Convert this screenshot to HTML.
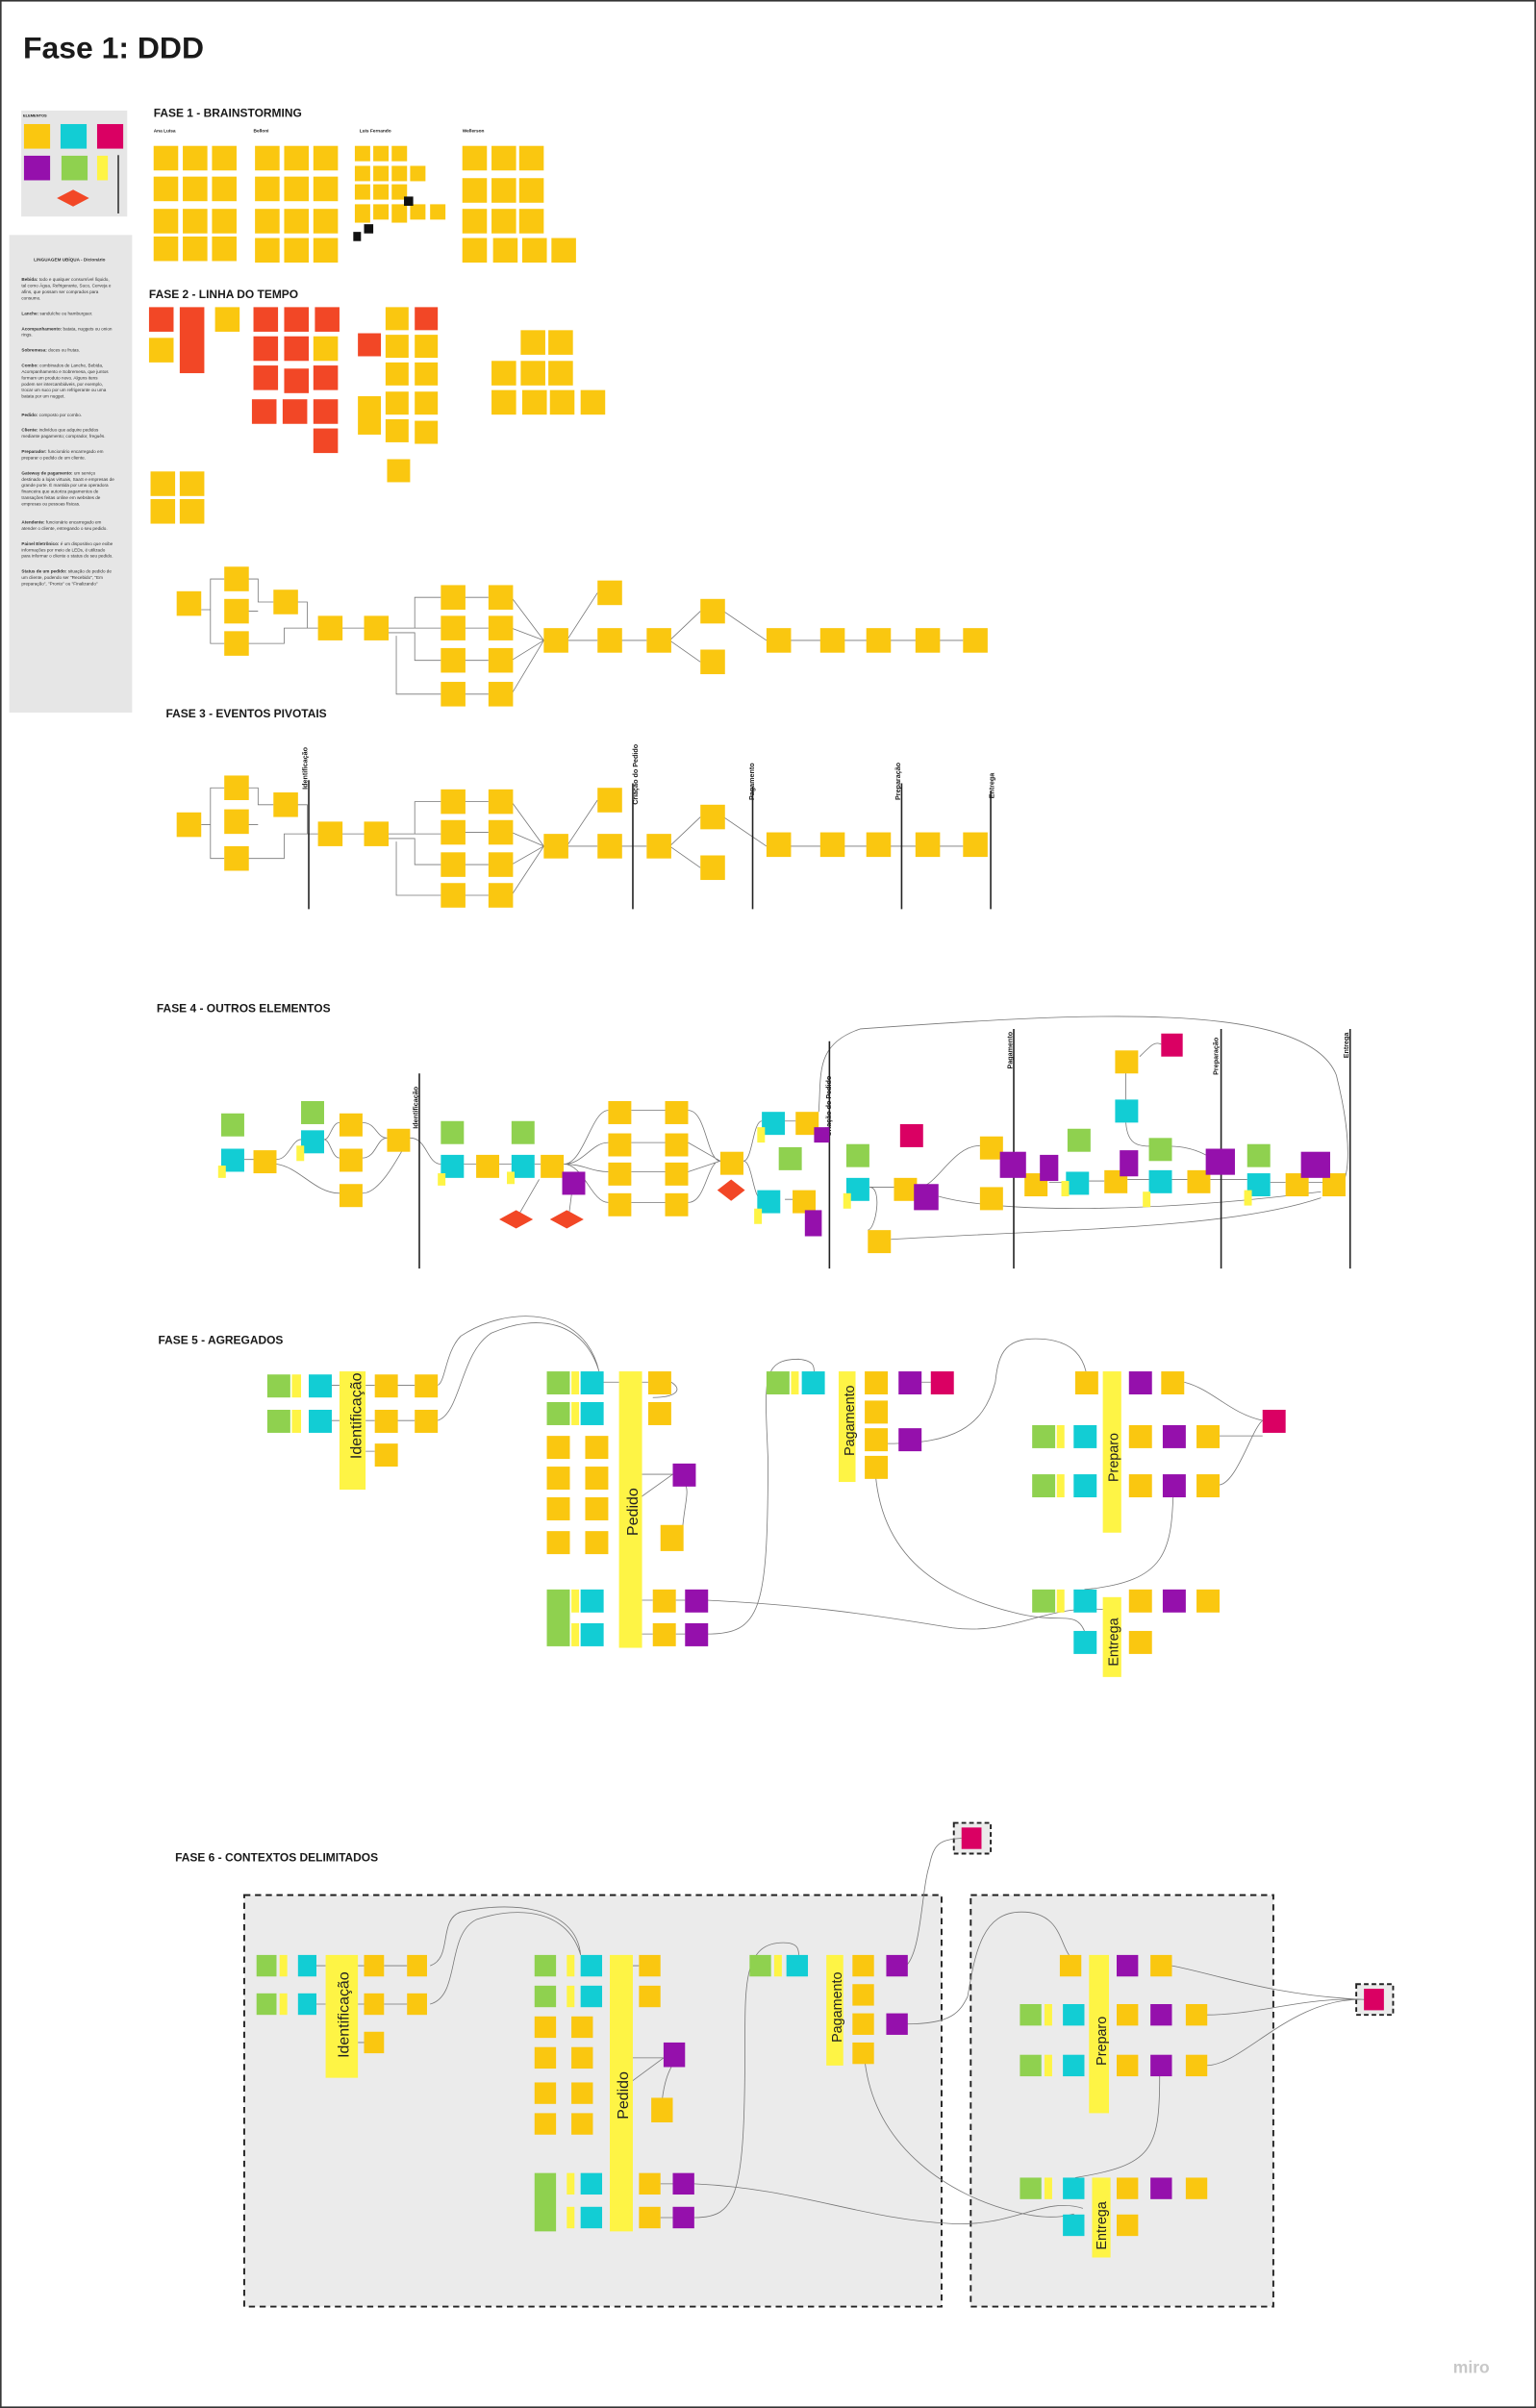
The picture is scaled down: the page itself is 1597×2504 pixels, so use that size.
<!DOCTYPE html>
<html><head><meta charset="utf-8"><style>
html,body{margin:0;padding:0;background:#fff}
svg{display:block}
.y{fill:#fac710}.c{fill:#12cdd4}.m{fill:#da0063}.p{fill:#9510ac}.g{fill:#8fd14f}.l{fill:#fef445}.r{fill:#f24726}
.ln{stroke:#777;stroke-width:0.5;fill:none}
.vl{stroke:#222;stroke-width:1;fill:none}
.h{font-family:"Liberation Sans",sans-serif;font-weight:bold;fill:#1a1a1a}
</style></head><body>
<svg width="1597" height="2504" viewBox="0 0 1000 1568" xmlns="http://www.w3.org/2000/svg">
<rect x="0.5" y="0.5" width="999" height="1567" fill="#fff" stroke="#333" stroke-width="1"/>
<text x="15" y="38" class="h" font-size="20">Fase 1: DDD</text>

<!-- elements box -->
<rect x="13.8" y="72" width="69" height="69" fill="#e6e6e6"/>
<text x="15" y="76" class="h" font-size="2.5">ELEMENTOS</text>
<rect class="y" x="15.6" y="80.8" width="17" height="16"/><rect class="c" x="39.4" y="80.8" width="17" height="16"/><rect class="m" x="63.2" y="80.8" width="17" height="16"/>
<rect class="p" x="15.6" y="101.4" width="17" height="16"/><rect class="g" x="40" y="101.4" width="17" height="16"/><rect class="l" x="63.2" y="101.4" width="7" height="16"/>
<polygon class="r" points="37,129 47.6,123.5 58,129 47.6,134.5"/>
<line x1="77" y1="101" x2="77" y2="139" stroke="#333" stroke-width="1"/>

<!-- glossary -->
<rect x="6" y="153" width="80" height="311" fill="#e6e6e6"/>
<g font-family="Liberation Sans,sans-serif" font-size="2.9" fill="#333">
<text x="22" y="170" font-weight="bold">LINGUAGEM UBÍQUA - Dicionário</text>
<text x="14" y="183"><tspan font-weight="bold">Bebida:</tspan> todo e qualquer consumível líquido,</text>
<text x="14" y="187">tal como Água, Refrigerante, Suco, Cerveja e</text>
<text x="14" y="191">afins, que possam ser comprados para</text>
<text x="14" y="195">consumo.</text>
<text x="14" y="205"><tspan font-weight="bold">Lanche:</tspan> sanduíche ou hamburguer.</text>
<text x="14" y="215"><tspan font-weight="bold">Acompanhamento:</tspan> batata, nuggets ou onion</text>
<text x="14" y="219">rings.</text>
<text x="14" y="229"><tspan font-weight="bold">Sobremesa:</tspan> doces ou frutas.</text>
<text x="14" y="239"><tspan font-weight="bold">Combo:</tspan> combinados de Lanche, Bebida,</text>
<text x="14" y="243">Acompanhamento e Sobremesa, que juntos</text>
<text x="14" y="247">formam um produto novo. Alguns itens</text>
<text x="14" y="251">podem ser intercambiáveis, por exemplo,</text>
<text x="14" y="255">trocar um suco por um refrigerante ou uma</text>
<text x="14" y="259">batata por um nugget.</text>
<text x="14" y="271"><tspan font-weight="bold">Pedido:</tspan> composto por combo.</text>
<text x="14" y="281"><tspan font-weight="bold">Cliente:</tspan> indivíduo que adquire pedidos</text>
<text x="14" y="285">mediante pagamento; comprador, freguês.</text>
<text x="14" y="295"><tspan font-weight="bold">Preparador:</tspan> funcionário encarregado em</text>
<text x="14" y="299">preparar o pedido de um cliente.</text>
<text x="14" y="309"><tspan font-weight="bold">Gateway de pagamento:</tspan> um serviço</text>
<text x="14" y="313">destinado a lojas virtuais, SaaS e empresas de</text>
<text x="14" y="317">grande porte. É mantida por uma operadora</text>
<text x="14" y="321">financeira que autoriza pagamentos de</text>
<text x="14" y="325">transações feitas online em websites de</text>
<text x="14" y="329">empresas ou pessoas físicas.</text>
<text x="14" y="341"><tspan font-weight="bold">Atendente:</tspan> funcionário encarregado em</text>
<text x="14" y="345">atender o cliente, entregando o seu pedido.</text>
<text x="14" y="355"><tspan font-weight="bold">Painel Eletrônico:</tspan> é um dispositivo que exibe</text>
<text x="14" y="359">informações por meio de LEDs, é utilizado</text>
<text x="14" y="363">para informar o cliente o status do seu pedido.</text>
<text x="14" y="373"><tspan font-weight="bold">Status de um pedido:</tspan> situação do pedido de</text>
<text x="14" y="377">um cliente, podendo ser "Recebido", "Em</text>
<text x="14" y="381">preparação", "Pronto" ou "Finalizando"</text>
</g>

<!-- FASE 1 -->
<text x="100" y="76" class="h" font-size="7.5">FASE 1 - BRAINSTORMING</text>
<g class="h" font-size="3"><text x="100" y="86">Ana Luisa</text><text x="165" y="86">Belloni</text><text x="234" y="86">Luis Fernando</text><text x="301" y="86">Wellerson</text></g>
<g class="y">
<rect x="100" y="95" width="16" height="16"/><rect x="119" y="95" width="16" height="16"/><rect x="138" y="95" width="16" height="16"/>
<rect x="100" y="115" width="16" height="16"/><rect x="119" y="115" width="16" height="16"/><rect x="138" y="115" width="16" height="16"/>
<rect x="100" y="136" width="16" height="16"/><rect x="119" y="136" width="16" height="16"/><rect x="138" y="136" width="16" height="16"/>
<rect x="100" y="154" width="16" height="16"/><rect x="119" y="154" width="16" height="16"/><rect x="138" y="154" width="16" height="16"/>
<rect x="166" y="95" width="16" height="16"/><rect x="185" y="95" width="16" height="16"/><rect x="204" y="95" width="16" height="16"/>
<rect x="166" y="115" width="16" height="16"/><rect x="185" y="115" width="16" height="16"/><rect x="204" y="115" width="16" height="16"/>
<rect x="166" y="136" width="16" height="16"/><rect x="185" y="136" width="16" height="16"/><rect x="204" y="136" width="16" height="16"/>
<rect x="166" y="155" width="16" height="16"/><rect x="185" y="155" width="16" height="16"/><rect x="204" y="155" width="16" height="16"/>
<rect x="231" y="95" width="10" height="10"/><rect x="243" y="95" width="10" height="10"/><rect x="255" y="95" width="10" height="10"/>
<rect x="231" y="108" width="10" height="10"/><rect x="243" y="108" width="10" height="10"/><rect x="255" y="108" width="10" height="10"/><rect x="267" y="108" width="10" height="10"/>
<rect x="231" y="120" width="10" height="10"/><rect x="243" y="120" width="10" height="10"/><rect x="255" y="120" width="10" height="10"/>
<rect x="231" y="133" width="10" height="12"/><rect x="243" y="133" width="10" height="10"/><rect x="255" y="133" width="10" height="12"/><rect x="267" y="133" width="10" height="10"/><rect x="280" y="133" width="10" height="10"/>
<rect x="301" y="95" width="16" height="16"/><rect x="320" y="95" width="16" height="16"/><rect x="338" y="95" width="16" height="16"/>
<rect x="301" y="116" width="16" height="16"/><rect x="320" y="116" width="16" height="16"/><rect x="338" y="116" width="16" height="16"/>
<rect x="301" y="136" width="16" height="16"/><rect x="320" y="136" width="16" height="16"/><rect x="338" y="136" width="16" height="16"/>
<rect x="301" y="155" width="16" height="16"/><rect x="321" y="155" width="16" height="16"/><rect x="340" y="155" width="16" height="16"/><rect x="359" y="155" width="16" height="16"/>
</g>
<rect x="263" y="128" width="6" height="6" fill="#111"/><rect x="237" y="146" width="6" height="6" fill="#111"/><rect x="230" y="151" width="5" height="6" fill="#111"/>

<!-- FASE 2 -->
<text x="97" y="194" class="h" font-size="7.5">FASE 2 - LINHA DO TEMPO</text>
<g class="r">
<rect x="97" y="200" width="16" height="16"/><rect x="117" y="200" width="16" height="43"/>
<rect x="165" y="200" width="16" height="16"/><rect x="185" y="200" width="16" height="16"/><rect x="205" y="200" width="16" height="16"/>
<rect x="165" y="219" width="16" height="16"/><rect x="185" y="219" width="16" height="16"/>
<rect x="165" y="238" width="16" height="16"/><rect x="185" y="240" width="16" height="16"/><rect x="204" y="238" width="16" height="16"/>
<rect x="164" y="260" width="16" height="16"/><rect x="184" y="260" width="16" height="16"/><rect x="204" y="260" width="16" height="16"/>
<rect x="204" y="279" width="16" height="16"/><rect x="233" y="217" width="15" height="15"/><rect x="270" y="200" width="15" height="15"/>
</g>
<g class="y">
<rect x="97" y="220" width="16" height="16"/><rect x="140" y="200" width="16" height="16"/><rect x="204" y="219" width="16" height="16"/>
<rect x="251" y="200" width="15" height="15"/><rect x="251" y="218" width="15" height="15"/><rect x="251" y="236" width="15" height="15"/><rect x="251" y="255" width="15" height="15"/><rect x="251" y="273" width="15" height="15"/><rect x="252" y="299" width="15" height="15"/>
<rect x="270" y="218" width="15" height="15"/><rect x="270" y="236" width="15" height="15"/><rect x="270" y="255" width="15" height="15"/><rect x="270" y="274" width="15" height="15"/>
<rect x="233" y="258" width="15" height="25"/>
<rect x="339" y="215" width="16" height="16"/><rect x="357" y="215" width="16" height="16"/>
<rect x="320" y="235" width="16" height="16"/><rect x="339" y="235" width="16" height="16"/><rect x="357" y="235" width="16" height="16"/>
<rect x="320" y="254" width="16" height="16"/><rect x="340" y="254" width="16" height="16"/><rect x="358" y="254" width="16" height="16"/><rect x="378" y="254" width="16" height="16"/>
<rect x="98" y="307" width="16" height="16"/><rect x="117" y="307" width="16" height="16"/><rect x="98" y="325" width="16" height="16"/><rect x="117" y="325" width="16" height="16"/>
</g>
<!-- fase 2 flow -->
<g class="ln">
<path d="M131,397 H137 V377 H146 M137,397 V419 H146 M161,377 H168 V392 H178 M161,398 H168 M161,419 H185 V409 H207 M193,392 H200 V409 H207 M222,409 H237 M252,409 H270 V389 H287 M252,409 H287 M252,412 H270 V430 H287 M258,414 V452 H287 M302,389 H318 M302,409 H318 M302,430 H318 M302,452 H318 M333,389 L354,417 M333,409 L354,417 M333,430 L354,417 M333,452 L354,417 M369,417 H389 M369,417 L389,386 M404,417 H421 M436,417 L456,398 M436,417 L456,431 M471,398 L499,417 M514,417 H627"/>
</g>
<g class="y">
<rect x="115" y="385" width="16" height="16"/><rect x="146" y="369" width="16" height="16"/><rect x="146" y="390" width="16" height="16"/><rect x="146" y="411" width="16" height="16"/>
<rect x="178" y="384" width="16" height="16"/><rect x="207" y="401" width="16" height="16"/><rect x="237" y="401" width="16" height="16"/>
<rect x="287" y="381" width="16" height="16"/><rect x="287" y="401" width="16" height="16"/><rect x="287" y="422" width="16" height="16"/><rect x="287" y="444" width="16" height="16"/>
<rect x="318" y="381" width="16" height="16"/><rect x="318" y="401" width="16" height="16"/><rect x="318" y="422" width="16" height="16"/><rect x="318" y="444" width="16" height="16"/>
<rect x="354" y="409" width="16" height="16"/><rect x="389" y="378" width="16" height="16"/><rect x="389" y="409" width="16" height="16"/><rect x="421" y="409" width="16" height="16"/>
<rect x="456" y="390" width="16" height="16"/><rect x="456" y="423" width="16" height="16"/>
<rect x="499" y="409" width="16" height="16"/><rect x="534" y="409" width="16" height="16"/><rect x="564" y="409" width="16" height="16"/><rect x="596" y="409" width="16" height="16"/><rect x="627" y="409" width="16" height="16"/>
</g>

<!-- FASE 3 -->
<text x="108" y="467" class="h" font-size="7.5">FASE 3 - EVENTOS PIVOTAIS</text>
<g class="ln">
<path d="M131,537 H137 V513 H146 M137,537 V559 H146 M161,513 H168 V524 H178 M161,537 H168 M161,559 H185 V543 H207 M193,524 H200 V543 H207 M222,543 H237 M252,543 H270 V522 H287 M252,543 H287 M252,546 H270 V563 H287 M258,548 V583 H287 M302,522 H318 M302,542 H318 M302,563 H318 M302,583 H318 M333,522 L354,551 M333,542 L354,551 M333,563 L354,551 M333,583 L354,551 M369,551 H389 M369,551 L389,521 M404,551 H421 M436,551 L456,532 M436,551 L456,565 M471,532 L499,551 M514,551 H627"/>
</g>
<g class="y">
<rect x="115" y="529" width="16" height="16"/><rect x="146" y="505" width="16" height="16"/><rect x="146" y="527" width="16" height="16"/><rect x="146" y="551" width="16" height="16"/>
<rect x="178" y="516" width="16" height="16"/><rect x="207" y="535" width="16" height="16"/><rect x="237" y="535" width="16" height="16"/>
<rect x="287" y="514" width="16" height="16"/><rect x="287" y="534" width="16" height="16"/><rect x="287" y="555" width="16" height="16"/><rect x="287" y="575" width="16" height="16"/>
<rect x="318" y="514" width="16" height="16"/><rect x="318" y="534" width="16" height="16"/><rect x="318" y="555" width="16" height="16"/><rect x="318" y="575" width="16" height="16"/>
<rect x="354" y="543" width="16" height="16"/><rect x="389" y="513" width="16" height="16"/><rect x="389" y="543" width="16" height="16"/><rect x="421" y="543" width="16" height="16"/>
<rect x="456" y="524" width="16" height="16"/><rect x="456" y="557" width="16" height="16"/>
<rect x="499" y="542" width="16" height="16"/><rect x="534" y="542" width="16" height="16"/><rect x="564" y="542" width="16" height="16"/><rect x="596" y="542" width="16" height="16"/><rect x="627" y="542" width="16" height="16"/>
</g>
<g class="vl"><path d="M201,508 V592 M412,510 V592 M490,512 V592 M587,510 V592 M645,515 V592"/></g>
<g class="h" font-size="4.5">
<text transform="translate(200,514) rotate(-90)">Identificação</text>
<text transform="translate(415,524) rotate(-90)">Criação do Pedido</text>
<text transform="translate(491,521) rotate(-90)">Pagamento</text>
<text transform="translate(586,521) rotate(-90)">Preparação</text>
<text transform="translate(647,520) rotate(-90)">Entrega</text>
</g>

<!-- FASE 4 -->
<text x="102" y="659" class="h" font-size="7.5">FASE 4 - OUTROS ELEMENTOS</text>
<g class="ln">
<path d="M159,755 H165 M180,755 C188,755 190,742 196,742 M211,742 C215,742 216,731 221,731 M211,742 C215,742 216,754 221,754 M180,758 C195,760 205,777 221,777 M236,731 C245,731 245,741 252,741 M236,754 C245,754 245,741 252,741 M236,777 C250,777 265,741 267,741 M267,741 C278,741 278,758 287,758 M302,758 H310 M325,758 H333 M348,758 H352 M367,758 C380,758 385,723 396,723 M367,758 C380,758 385,744 396,744 M367,758 C380,758 385,763 396,763 M367,758 C380,758 385,783 396,783 M411,723 H433 M411,744 H433 M411,763 H433 M411,783 H433 M448,723 C460,723 460,756 469,756 M448,744 L469,756 M448,763 L469,756 M448,783 C460,783 460,756 469,756 M484,756 C490,756 490,730 496,730 M484,756 C490,756 490,781 496,781 M511,730 H518 M511,781 H516 M351,768 L336,794 M373,771 L370,794 M533,724 C535,700 530,680 560,670 C700,660 850,650 870,700 C880,740 880,770 870,775 M566,773 H582 M598,773 C610,773 620,746 638,746 M566,773 C575,773 570,801 565,801 M580,807 C700,800 800,800 860,780 M611,779 C650,790 750,790 860,776 M653,756 H667 M683,770 H694 M709,769 H719 M734,768 H748 M763,768 H773 M788,768 H812 M827,770 H837 M852,770 H861 M733,690 V716 M733,731 C735,760 760,735 790,755 M742,688 C750,680 752,678 756,680"/>
</g>
<g class="vl"><path d="M273,699 V826 M540,678 V826 M660,670 V826 M795,670 V826 M879,670 V826"/></g>
<g class="h" font-size="4.5">
<text transform="translate(272,735) rotate(-90)">Identificação</text>
<text transform="translate(541,740) rotate(-90)">Criação do Pedido</text>
<text transform="translate(659,696) rotate(-90)">Pagamento</text>
<text transform="translate(793,700) rotate(-90)">Preparação</text>
<text transform="translate(878,689) rotate(-90)">Entrega</text>
</g>
<g class="g">
<rect x="144" y="725" width="15" height="15"/><rect x="196" y="717" width="15" height="15"/><rect x="287" y="730" width="15" height="15"/><rect x="333" y="730" width="15" height="15"/><rect x="507" y="747" width="15" height="15"/><rect x="551" y="745" width="15" height="15"/><rect x="695" y="735" width="15" height="15"/><rect x="748" y="741" width="15" height="15"/><rect x="812" y="745" width="15" height="15"/>
</g>
<g class="c">
<rect x="144" y="748" width="15" height="15"/><rect x="196" y="736" width="15" height="15"/><rect x="287" y="752" width="15" height="15"/><rect x="333" y="752" width="15" height="15"/><rect x="496" y="724" width="15" height="15"/><rect x="493" y="775" width="15" height="15"/><rect x="551" y="767" width="15" height="15"/><rect x="694" y="763" width="15" height="15"/><rect x="726" y="716" width="15" height="15"/><rect x="748" y="762" width="15" height="15"/><rect x="812" y="764" width="15" height="15"/>
</g>
<g class="l">
<rect x="142" y="759" width="5" height="8"/><rect x="193" y="746" width="5" height="10"/><rect x="285" y="764" width="5" height="8"/><rect x="330" y="763" width="5" height="8"/><rect x="493" y="734" width="5" height="10"/><rect x="491" y="787" width="5" height="10"/><rect x="549" y="777" width="5" height="10"/><rect x="691" y="769" width="5" height="10"/><rect x="744" y="776" width="5" height="10"/><rect x="810" y="775" width="5" height="10"/>
</g>
<g class="y">
<rect x="165" y="749" width="15" height="15"/><rect x="221" y="725" width="15" height="15"/><rect x="221" y="748" width="15" height="15"/><rect x="221" y="771" width="15" height="15"/><rect x="252" y="735" width="15" height="15"/>
<rect x="310" y="752" width="15" height="15"/><rect x="352" y="752" width="15" height="15"/>
<rect x="396" y="717" width="15" height="15"/><rect x="396" y="738" width="15" height="15"/><rect x="396" y="757" width="15" height="15"/><rect x="396" y="777" width="15" height="15"/>
<rect x="433" y="717" width="15" height="15"/><rect x="433" y="738" width="15" height="15"/><rect x="433" y="757" width="15" height="15"/><rect x="433" y="777" width="15" height="15"/>
<rect x="469" y="750" width="15" height="15"/><rect x="518" y="724" width="15" height="15"/><rect x="516" y="775" width="15" height="15"/>
<rect x="565" y="801" width="15" height="15"/><rect x="582" y="767" width="15" height="15"/><rect x="638" y="740" width="15" height="15"/><rect x="638" y="773" width="15" height="15"/>
<rect x="667" y="764" width="15" height="15"/><rect x="719" y="762" width="15" height="15"/><rect x="726" y="684" width="15" height="15"/><rect x="773" y="762" width="15" height="15"/><rect x="837" y="764" width="15" height="15"/><rect x="861" y="764" width="15" height="15"/>
</g>
<g class="p">
<rect x="366" y="763" width="15" height="15"/><rect x="530" y="734" width="10" height="10"/><rect x="524" y="788" width="11" height="17"/><rect x="595" y="771" width="16" height="17"/><rect x="651" y="750" width="17" height="17"/><rect x="677" y="752" width="12" height="17"/><rect x="729" y="749" width="12" height="17"/><rect x="785" y="748" width="19" height="17"/><rect x="847" y="750" width="19" height="17"/>
</g>
<g class="m"><rect x="586" y="732" width="15" height="15"/><rect x="756" y="673" width="14" height="15"/></g>
<g class="r">
<polygon points="325,794 336,788 347,794 336,800"/><polygon points="358,794 369,788 380,794 369,800"/><polygon points="467,775 476,768 485,775 476,782"/>
</g>

<!-- FASE 5 -->
<text x="103" y="875" class="h" font-size="7.5">FASE 5 - AGREGADOS</text>
<g class="ln">
<path d="M258,902 H270 M258,925 H270 M285,902 C290,900 290,880 300,870 C330,850 380,850 390,893 M285,925 C300,920 300,880 320,868 C350,855 380,860 390,893 M215,902 H221 M215,925 H221 M238,902 H244 M238,925 H244 M238,945 H244 M392,900 H403 M418,900 H422 M437,900 C445,905 440,910 425,910 M418,960 L438,960 M410,980 L438,960 M444,1000 C445,980 450,970 445,965 M418,1042 H425 M418,1064 H425 M440,1042 H446 M440,1064 H446 M460,1042 C520,1045 560,1050 620,1060 C660,1065 680,1045 718,1048 M460,1064 C495,1064 500,1050 500,950 C498,900 495,885 520,885 C530,886 530,890 530,893 M578,940 C620,940 640,930 648,900 C650,880 655,870 680,872 C700,874 705,885 707,893 M570,960 C575,1020 620,1040 660,1050 C690,1058 700,1048 706,1062 M600,900 H606 M771,900 C790,905 800,920 822,925 M793,935 H822 M793,967 C805,967 815,930 822,925 M764,967 C763,1010 760,1030 706,1035"/>
</g>
<g class="l">
<rect x="221" y="893" width="17" height="77"/><rect x="403" y="893" width="15" height="180"/><rect x="546" y="893" width="11" height="72"/><rect x="718" y="893" width="12" height="105"/><rect x="718" y="1040" width="12" height="52"/>
<rect x="190" y="895" width="6" height="15"/><rect x="190" y="918" width="6" height="15"/><rect x="372" y="893" width="5" height="15"/><rect x="372" y="913" width="5" height="15"/><rect x="372" y="1035" width="5" height="15"/><rect x="372" y="1057" width="5" height="15"/><rect x="515" y="893" width="5" height="15"/><rect x="688" y="928" width="5" height="15"/><rect x="688" y="960" width="5" height="15"/><rect x="688" y="1035" width="5" height="15"/>
</g>
<g class="g">
<rect x="174" y="895" width="15" height="15"/><rect x="174" y="918" width="15" height="15"/><rect x="356" y="893" width="15" height="15"/><rect x="356" y="913" width="15" height="15"/><rect x="356" y="1035" width="15" height="37"/><rect x="499" y="893" width="15" height="15"/><rect x="672" y="928" width="15" height="15"/><rect x="672" y="960" width="15" height="15"/><rect x="672" y="1035" width="15" height="15"/>
</g>
<g class="c">
<rect x="201" y="895" width="15" height="15"/><rect x="201" y="918" width="15" height="15"/><rect x="378" y="893" width="15" height="15"/><rect x="378" y="913" width="15" height="15"/><rect x="378" y="1035" width="15" height="15"/><rect x="378" y="1057" width="15" height="15"/><rect x="522" y="893" width="15" height="15"/><rect x="699" y="928" width="15" height="15"/><rect x="699" y="960" width="15" height="15"/><rect x="699" y="1035" width="15" height="15"/><rect x="699" y="1062" width="15" height="15"/>
</g>
<g class="y">
<rect x="244" y="895" width="15" height="15"/><rect x="244" y="918" width="15" height="15"/><rect x="244" y="940" width="15" height="15"/><rect x="270" y="895" width="15" height="15"/><rect x="270" y="918" width="15" height="15"/>
<rect x="422" y="893" width="15" height="15"/><rect x="422" y="913" width="15" height="15"/>
<rect x="356" y="935" width="15" height="15"/><rect x="356" y="955" width="15" height="15"/><rect x="356" y="975" width="15" height="15"/><rect x="356" y="997" width="15" height="15"/>
<rect x="381" y="935" width="15" height="15"/><rect x="381" y="955" width="15" height="15"/><rect x="381" y="975" width="15" height="15"/><rect x="381" y="997" width="15" height="15"/>
<rect x="430" y="993" width="15" height="17"/><rect x="425" y="1035" width="15" height="15"/><rect x="425" y="1057" width="15" height="15"/>
<rect x="563" y="893" width="15" height="15"/><rect x="563" y="912" width="15" height="15"/><rect x="563" y="930" width="15" height="15"/><rect x="563" y="948" width="15" height="15"/>
<rect x="700" y="893" width="15" height="15"/><rect x="756" y="893" width="15" height="15"/><rect x="735" y="928" width="15" height="15"/><rect x="735" y="960" width="15" height="15"/><rect x="779" y="928" width="15" height="15"/><rect x="779" y="960" width="15" height="15"/>
<rect x="735" y="1035" width="15" height="15"/><rect x="779" y="1035" width="15" height="15"/><rect x="735" y="1062" width="15" height="15"/>
</g>
<g class="p">
<rect x="438" y="953" width="15" height="15"/><rect x="446" y="1035" width="15" height="15"/><rect x="446" y="1057" width="15" height="15"/><rect x="585" y="893" width="15" height="15"/><rect x="585" y="930" width="15" height="15"/><rect x="735" y="893" width="15" height="15"/><rect x="757" y="928" width="15" height="15"/><rect x="757" y="960" width="15" height="15"/><rect x="757" y="1035" width="15" height="15"/>
</g>
<g class="m"><rect x="606" y="893" width="15" height="15"/><rect x="822" y="918" width="15" height="15"/></g>
<g font-family="Liberation Sans,sans-serif" fill="#222">
<text transform="translate(235,950) rotate(-90)" font-size="10">Identificação</text>
<text transform="translate(415,1000) rotate(-90)" font-size="10">Pedido</text>
<text transform="translate(556,948) rotate(-90)" font-size="9">Pagamento</text>
<text transform="translate(728,965) rotate(-90)" font-size="9">Preparo</text>
<text transform="translate(728,1085) rotate(-90)" font-size="9">Entrega</text>
</g>

<!-- FASE 6 -->
<text x="114" y="1212" class="h" font-size="7.5">FASE 6 - CONTEXTOS DELIMITADOS</text>
<rect x="159" y="1234" width="454" height="268" fill="#ebebeb" stroke="#222" stroke-width="1.2" stroke-dasharray="4,3"/>
<rect x="632" y="1234" width="197" height="268" fill="#ebebeb" stroke="#222" stroke-width="1.2" stroke-dasharray="4,3"/>
<rect x="621" y="1187" width="24" height="20" fill="#ebebeb" stroke="#222" stroke-width="1.2" stroke-dasharray="3,2"/>
<rect x="883" y="1292" width="24" height="20" fill="#ebebeb" stroke="#222" stroke-width="1.2" stroke-dasharray="3,2"/>
<g class="ln">
<path d="M250,1280 H265 M250,1305 H265 M280,1280 C295,1275 285,1250 300,1245 C330,1238 375,1240 378,1273 M280,1305 C300,1300 290,1260 310,1250 C340,1240 370,1245 378,1273 M206,1280 H212 M206,1305 H212 M233,1280 H237 M233,1305 H237 M233,1330 H237 M412,1280 H416 M412,1340 H432 M405,1360 L432,1340 M431,1368 C433,1350 438,1345 440,1340 M430,1422 H438 M430,1444 H438 M452,1422 C520,1425 560,1445 620,1448 C660,1450 680,1430 705,1438 M452,1444 C480,1444 485,1430 485,1330 C485,1290 485,1265 510,1265 C520,1265 520,1270 520,1273 M590,1280 C600,1270 600,1230 605,1215 C608,1200 612,1198 626,1197 M590,1318 C620,1318 625,1310 630,1300 C635,1270 640,1245 665,1245 C690,1245 690,1265 696,1273 M563,1342 C570,1400 620,1430 660,1440 C690,1448 700,1440 699,1442 M763,1280 C790,1285 830,1300 889,1302 M785,1312 C820,1312 850,1300 889,1302 M785,1345 C810,1345 840,1300 889,1302 M755,1352 C755,1400 750,1410 700,1418"/>
</g>
<g class="l">
<rect x="212" y="1273" width="21" height="80"/><rect x="397" y="1273" width="15" height="180"/><rect x="538" y="1273" width="11" height="72"/><rect x="709" y="1273" width="13" height="103"/><rect x="711" y="1418" width="12" height="52"/>
<rect x="182" y="1273" width="5" height="14"/><rect x="182" y="1298" width="5" height="14"/><rect x="369" y="1273" width="5" height="14"/><rect x="369" y="1293" width="5" height="14"/><rect x="369" y="1415" width="5" height="14"/><rect x="369" y="1437" width="5" height="14"/><rect x="504" y="1273" width="5" height="14"/><rect x="680" y="1305" width="5" height="14"/><rect x="680" y="1338" width="5" height="14"/><rect x="680" y="1418" width="5" height="14"/>
</g>
<g class="g">
<rect x="167" y="1273" width="13" height="14"/><rect x="167" y="1298" width="13" height="14"/><rect x="348" y="1273" width="14" height="14"/><rect x="348" y="1293" width="14" height="14"/><rect x="348" y="1415" width="14" height="38"/><rect x="488" y="1273" width="14" height="14"/><rect x="664" y="1305" width="14" height="14"/><rect x="664" y="1338" width="14" height="14"/><rect x="664" y="1418" width="14" height="14"/>
</g>
<g class="c">
<rect x="194" y="1273" width="12" height="14"/><rect x="194" y="1298" width="12" height="14"/><rect x="378" y="1273" width="14" height="14"/><rect x="378" y="1293" width="14" height="14"/><rect x="378" y="1415" width="14" height="14"/><rect x="378" y="1437" width="14" height="14"/><rect x="512" y="1273" width="14" height="14"/><rect x="692" y="1305" width="14" height="14"/><rect x="692" y="1338" width="14" height="14"/><rect x="692" y="1418" width="14" height="14"/><rect x="692" y="1442" width="14" height="14"/>
</g>
<g class="y">
<rect x="237" y="1273" width="13" height="14"/><rect x="237" y="1298" width="13" height="14"/><rect x="237" y="1323" width="13" height="14"/><rect x="265" y="1273" width="13" height="14"/><rect x="265" y="1298" width="13" height="14"/>
<rect x="416" y="1273" width="14" height="14"/><rect x="416" y="1293" width="14" height="14"/>
<rect x="348" y="1313" width="14" height="14"/><rect x="348" y="1333" width="14" height="14"/><rect x="348" y="1356" width="14" height="14"/><rect x="348" y="1376" width="14" height="14"/>
<rect x="372" y="1313" width="14" height="14"/><rect x="372" y="1333" width="14" height="14"/><rect x="372" y="1356" width="14" height="14"/><rect x="372" y="1376" width="14" height="14"/>
<rect x="424" y="1366" width="14" height="16"/><rect x="416" y="1415" width="14" height="14"/><rect x="416" y="1437" width="14" height="14"/>
<rect x="555" y="1273" width="14" height="14"/><rect x="555" y="1292" width="14" height="14"/><rect x="555" y="1311" width="14" height="14"/><rect x="555" y="1330" width="14" height="14"/>
<rect x="690" y="1273" width="14" height="14"/><rect x="749" y="1273" width="14" height="14"/><rect x="727" y="1305" width="14" height="14"/><rect x="727" y="1338" width="14" height="14"/><rect x="772" y="1305" width="14" height="14"/><rect x="772" y="1338" width="14" height="14"/>
<rect x="727" y="1418" width="14" height="14"/><rect x="772" y="1418" width="14" height="14"/><rect x="727" y="1442" width="14" height="14"/>
</g>
<g class="p">
<rect x="432" y="1330" width="14" height="16"/><rect x="438" y="1415" width="14" height="14"/><rect x="438" y="1437" width="14" height="14"/><rect x="577" y="1273" width="14" height="14"/><rect x="577" y="1311" width="14" height="14"/><rect x="727" y="1273" width="14" height="14"/><rect x="749" y="1305" width="14" height="14"/><rect x="749" y="1338" width="14" height="14"/><rect x="749" y="1418" width="14" height="14"/>
</g>
<g class="m"><rect x="626" y="1190" width="13" height="14"/><rect x="888" y="1295" width="13" height="14"/></g>
<g font-family="Liberation Sans,sans-serif" fill="#222">
<text transform="translate(227,1340) rotate(-90)" font-size="10">Identificação</text>
<text transform="translate(409,1380) rotate(-90)" font-size="10">Pedido</text>
<text transform="translate(548,1330) rotate(-90)" font-size="9">Pagamento</text>
<text transform="translate(720,1345) rotate(-90)" font-size="9">Preparo</text>
<text transform="translate(720,1465) rotate(-90)" font-size="9">Entrega</text>
</g>

<text x="946" y="1545" font-family="Liberation Sans,sans-serif" font-weight="bold" font-size="11" fill="#c8c8c8">miro</text>
</svg>
</body></html>
